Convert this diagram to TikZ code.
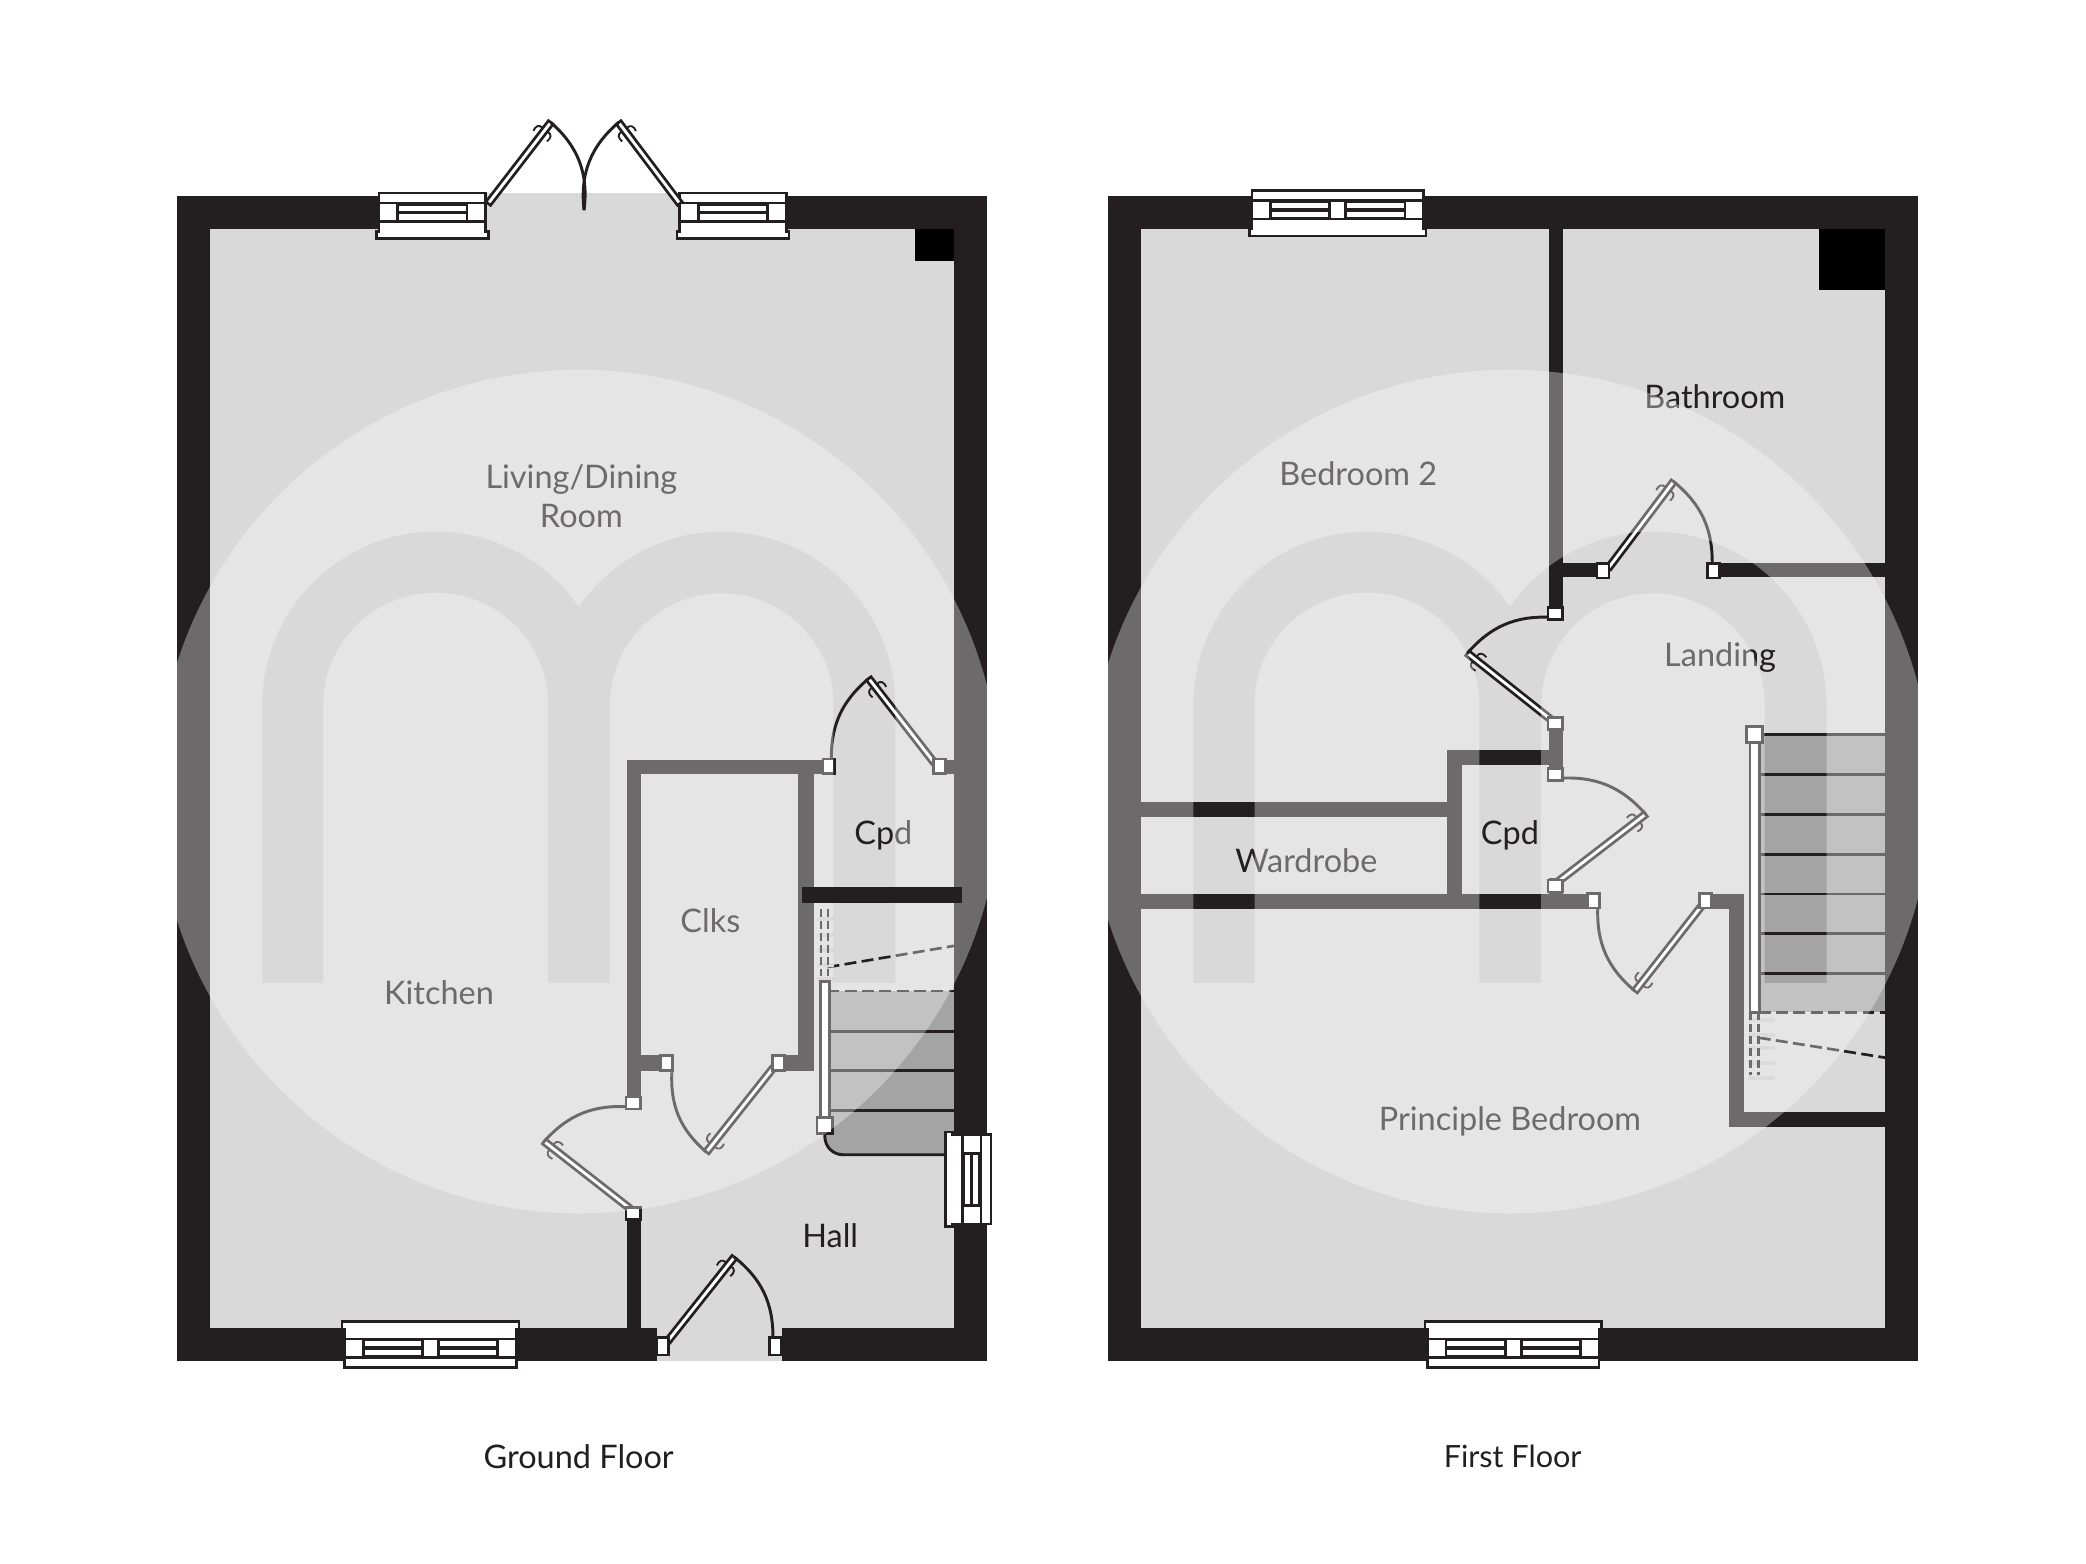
\documentclass[tikz,border=0pt]{standalone}
\usepackage{fontspec}
\setmainfont{Lato}
\definecolor{wallcol}{RGB}{35,31,32}
\definecolor{floorcol}{RGB}{217,217,217}
\definecolor{stepcol}{RGB}{164,164,164}
\definecolor{tickcol}{RGB}{201,201,201}
\tikzset{
    wall/.style={fill=wallcol},
    wincase/.style={draw=wallcol, fill=white, line width=2pt},
    leaf/.style={draw=wallcol, fill=white, line width=2pt},
    swing/.style={draw=wallcol, line width=2.2pt},
    jamb/.style={draw=wallcol, fill=white, line width=2pt},
    tread/.style={draw=wallcol, line width=2.2pt},
    stairdash/.style={draw=wallcol, line width=2pt, dash pattern=on 9pt off 4pt},
    raildash/.style={draw=wallcol, line width=2pt, dash pattern=on 6pt off 3pt},
    room/.style={text=wallcol, font=\fontsize{24.4}{29}\selectfont, align=center, inner sep=0pt},
    pics/planwindow/.style={code={
        \draw[wincase] (0,0) rectangle (#1,7.5);
        \fill[wallcol] (0,7.5) rectangle (#1,21.5);
        \draw[wincase] (0,7.5) rectangle (14,21.5);
        \draw[wincase] (#1-14,7.5) rectangle (#1,21.5);
        \fill[white] (15,9.5) rectangle (#1-15,13.6);
        \fill[white] (15,16) rectangle (#1-15,20);
        \ifnum#1>100
            \draw[wincase] ({#1/2-6},7.5) rectangle ({#1/2+6},21.5);
        \fi
        \draw[wincase] (0,21.5) -- (#1,21.5) -- (#1,29) -- (#1+2,29) -- (#1+2,34.5) -- (-2,34.5) -- (-2,29) -- (0,29) -- cycle;
    }}
}

\begin{document}
\begin{tikzpicture}[x=1pt, y=-1pt]

    \useasboundingbox (0,0) rectangle (1568,1175.6);
    \fill[white] (0,0) rectangle (1568,1175.6);

    % Floors
    \fill[floorcol] (133,147) rectangle (742,1023);
    \fill[floorcol] (366,145) rectangle (512,147);
    \fill[floorcol] (833,147) rectangle (1442,1023);

    % Ground floor walls
    \fill[wall] (133,147) rectangle (158,1023);
    \fill[wall] (717,147) rectangle (742,1023);
    \fill[wall] (133,147) rectangle (290,172);
    \fill[wall] (588,147) rectangle (742,172);
    \fill[wall] (133,998) rectangle (494,1023);
    \fill[wall] (588,998) rectangle (742,1023);
    \fill[black] (688,172) rectangle (717,196);
    \fill[wall] (471,912) rectangle (482,998);
    \fill[wall] (471,571) rectangle (482,833);
    \fill[wall] (471,571) rectangle (623,582);
    \fill[wall] (706,571) rectangle (717,582);
    \fill[wall] (600,571) rectangle (612,805);
    \fill[wall] (482,793) rectangle (501,805);
    \fill[wall] (585,793) rectangle (612,805);

    % First floor walls
    \fill[wall] (833,147) rectangle (858,1023);
    \fill[wall] (1417,147) rectangle (1442,1023);
    \fill[wall] (833,147) rectangle (1442,172);
    \fill[wall] (833,998) rectangle (1442,1023);
    \fill[black] (1367,172) rectangle (1417,218);
    \fill[wall] (1164,172) rectangle (1175,466);
    \fill[wall] (1175,423) rectangle (1205,434);
    \fill[wall] (1288,423) rectangle (1417,434);
    \fill[wall] (1164,544) rectangle (1175,586);
    \fill[wall] (1088,564) rectangle (1164,575);
    \fill[wall] (1088,564) rectangle (1099,683);
    \fill[wall] (858,603) rectangle (1088,614);
    \fill[wall] (858,672) rectangle (1198,683);
    \fill[wall] (1164,660) rectangle (1175,672);
    \fill[wall] (1282,672) rectangle (1311,683);
    \fill[wall] (1300,672) rectangle (1311,847);
    \fill[wall] (1300,836) rectangle (1417,847);

    % Ground floor stairs
    \fill[stepcol] (620,745) -- (717,745) -- (717,868) -- (634,868) .. controls (626,868) and (620,862) .. (620,854) -- cycle;
    \foreach \ty in {775,805,835} {
        \draw[tread] (622,\ty) -- (717,\ty);
    }
    \draw[tread] (620,846) -- (620,854) .. controls (620,862) and (626,868) .. (634,868) -- (712,868);
    \draw[stairdash] (622,745) -- (717,745);
    \draw[stairdash] (622,727) -- (717,711);
    \foreach \ty in {691,703,714,725,736} {
        \fill[tickcol] (614,\ty-1.5) rectangle (627,\ty+1.5);
    }
    \draw[raildash] (617,683) -- (617,738);
    \draw[raildash] (622.5,683) -- (622.5,738);
    \draw[jamb] (616.5,738) rectangle (623.5,846);
    \draw[jamb] (614,840) rectangle (626,852);

    % First floor stairs
    \fill[stepcol] (1322,552) rectangle (1417,761);
    \foreach \ty in {552,582,612,642,672,702,732} {
        \draw[tread] (1322,\ty) -- (1417,\ty);
    }
    \draw[stairdash] (1322,761) -- (1417,761);
    \draw[stairdash] (1322,780) -- (1417,795);
    \foreach \ty in {767,778,788,799,810} {
        \fill[tickcol] (1314,\ty-1.5) rectangle (1334,\ty+1.5);
    }
    \draw[raildash] (1316,761) -- (1316,808);
    \draw[raildash] (1322,761) -- (1322,808);
    \draw[jamb] (1315.5,552) rectangle (1322.5,761);
    \draw[jamb] (1313,546) rectangle (1325,558);

    % Windows, the flange faces the room
    \pic at (285,145) {planwindow=80};
    \pic at (511,145) {planwindow=80};
    \pic[yscale=-1] at (259,1028) {planwindow=129};
    \pic[rotate=-90] at (745,853) {planwindow=67};
    \pic at (941,143) {planwindow=129};
    \pic[yscale=-1] at (1073,1028) {planwindow=129};

    % Doors, hinge / leaf tip / end of swing / bend
    \foreach \hx/\hy/\tx/\ty/\jx/\jy/\bend in {
        367/153/414/92/439/158/28,
        511/153/465/92/439/158/-28,
        702/573/653/510/625/573/-26,
        581/803/531/866/505/806/26,
        473/908/409/858/473/832/26,
        502/1008/552/945/581/1006/26,
        1209/427/1258/362/1287/425/26,
        1166/541/1103/491/1166/464/26,
        1172/662/1237/612/1172/585/-26,
        1279/681/1229/745/1201/682/26} {
        \pgfmathsetmacro{\ang}{atan2(\hy-\ty,\tx-\hx)}
        \pgfmathsetmacro{\len}{veclen(\tx-\hx,\ty-\hy)}
        \begin{scope}[shift={(\hx,\hy)}, rotate=\ang]
            \draw[leaf] (0,-2.2) rectangle (\len,2.2);
            \foreach \s in {1,-1} {
                \draw[draw=wallcol, line width=1.4pt] (\len-7,2.5*\s) .. controls (\len-6.5,6*\s) and (\len-9,7.5*\s) .. (\len-13,6.5*\s);
            }
        \end{scope}
        \draw[swing] (\tx,\ty) to[bend left=\bend] (\jx,\jy);
    }
    \draw[swing] (439,135) -- (439,158);

    % Jambs on walls that run across and along
    \foreach \jx/\jy in {623/576,706/576,501/799,585/799,1205/429,1288/429,1198/677,1282/677} {
        \draw[jamb] (\jx-4.5,\jy-5.5) rectangle (\jx+4.5,\jy+5.5);
    }
    \foreach \jx/\jy in {498/1012,583/1012} {
        \draw[jamb] (\jx-4.5,\jy-6.5) rectangle (\jx+4.5,\jy+6.5);
    }
    \foreach \jx/\jy in {476/912,476/829,1169/461,1169/544,1169/582,1169/666} {
        \draw[jamb] (\jx-5.5,\jy-4.5) rectangle (\jx+5.5,\jy+4.5);
    }

    % Labels
    \node[room] (living) at (437,373) {Living/Dining\\Room};
    \node[room] (kitchen) at (330,746) {Kitchen};
    \node[room] (clks) at (534,692) {Clks};
    \node[room] (cpdg) at (664,628) {Cpd};
    \node[room] (hall) at (624,929) {Hall};
    \node[room] (ground) at (435,1095) {Ground Floor};
    \node[room, font=\fontsize{23}{29}\selectfont] (first) at (1137,1095) {First Floor};
    \node[room] (bedroom) at (1021,356) {Bedroom 2};
    \node[room] (bathroom) at (1289,298) {Bathroom};
    \node[room] (landing) at (1293,494) {Landing};
    \node[room] (wardrobe) at (982,647) {Wardrobe};
    \node[room] (cpdf) at (1135,628) {Cpd};
    \node[room] (principle) at (1135,843) {Principle Bedroom};

    % Watermark, a disc with the letter left out
    \foreach \sx in {0,700} {
        \begin{scope}[xshift=\sx pt]
            \fill[white, fill opacity=0.336, even odd rule] (435,595) circle (317)
                (197,739) -- (197,530) .. controls (197,458) and (255.5,399.5) .. (327.5,399.5)
                .. controls (370.4,399.5) and (410.6,420.7) .. (435,456)
                .. controls (459.4,420.7) and (499.6,399.5) .. (542.5,399.5)
                .. controls (614.6,399.5) and (673,458) .. (673,530) -- (673,739) -- (626.5,739) -- (626.5,530)
                .. controls (626.5,483.6) and (588.9,446) .. (542.5,446)
                .. controls (496.1,446) and (458.5,483.6) .. (458.5,530) -- (458.5,739) -- (412,739) -- (412,530)
                .. controls (412,483.3) and (374.2,445.5) .. (327.5,445.5)
                .. controls (280.8,445.5) and (243,483.3) .. (243,530) -- (243,739) -- cycle;
        \end{scope}
    }

    % Cupboard wall sits on top
    \fill[wall] (603,667) rectangle (723,679);

\end{tikzpicture}
\end{document}
